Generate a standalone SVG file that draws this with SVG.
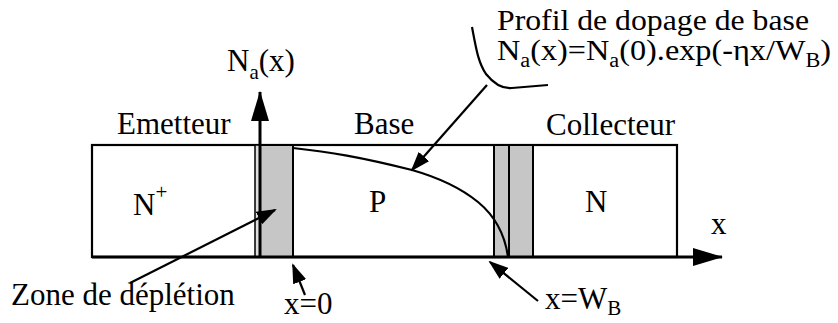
<svg xmlns="http://www.w3.org/2000/svg" width="838" height="323" viewBox="0 0 838 323">
<style>
text{font-family:"Liberation Serif","DejaVu Serif",serif;font-size:31px;fill:#000}
.sub{font-size:21px}
.lbl{font-size:29px}
.lbl .sub{font-size:20px}
.ln{stroke:#000;fill:none;stroke-width:2.2}
.thick{stroke:#000;fill:none;stroke-width:3}
.gray{fill:#c6c6c6;stroke:#000;stroke-width:2}
.lgray{fill:#dedede;stroke:#000;stroke-width:1.5}
</style>
<defs>
<marker id="ah" markerUnits="userSpaceOnUse" markerWidth="20" markerHeight="14" refX="18" refY="7" orient="auto">
<path d="M0,0 L20,7 L0,14 z" fill="#000"/>
</marker>
<marker id="ax" markerUnits="userSpaceOnUse" markerWidth="30" markerHeight="18" refX="29" refY="9" orient="auto">
<path d="M0,0 L30,9 L0,18 z" fill="#000"/>
</marker>
</defs>
<g id="structure">
<rect x="92" y="145" width="585" height="112" fill="#fff" stroke="#000" stroke-width="2.2"/>
</g>
<g id="depletion-emitter">
<rect class="lgray" x="255" y="145" width="5" height="112"/>
<rect class="gray" x="260" y="145" width="33" height="112"/>
</g>
<g id="depletion-collector">
<rect class="gray" x="494" y="145" width="15" height="112"/>
<rect class="gray" x="509" y="145" width="24" height="112"/>
</g>
<g id="profile-curve">
<path class="ln" d="M293,148 C330,152 360,157 412,170 C440,178 462,189 478,202 C495,216 505,235 508,257"/>
</g>
<g id="connectors">
<line class="thick" x1="260" y1="257" x2="260" y2="92" marker-end="url(#ax)"/>
<line class="thick" x1="92" y1="257" x2="722" y2="257" marker-end="url(#ax)"/>
<line class="ln" x1="130" y1="283" x2="275" y2="210" marker-end="url(#ah)"/>
<line class="ln" x1="487" y1="85" x2="412" y2="170" marker-end="url(#ah)"/>
<line class="ln" x1="305" y1="295" x2="293" y2="265" marker-end="url(#ah)"/>
<line class="ln" x1="538" y1="301" x2="490" y2="262" marker-end="url(#ah)"/>
<path class="ln" d="M472,27 C476,48 478,62 486,74 C494,84 502,89 512,88 L548,85"/>
</g>
<g id="labels">
<text x="117" y="134">Emetteur</text>
<text x="354" y="134">Base</text>
<text x="546" y="135">Collecteur</text>
<text x="133" y="215">N<tspan class="sub" dy="-16">+</tspan></text>
<text x="369" y="212">P</text>
<text x="585" y="212">N</text>
<text x="711" y="234">x</text>
<text x="227" y="71">N<tspan class="sub" dy="8">a</tspan><tspan dy="-8">(x)</tspan></text>
<text x="11" y="305">Zone de déplétion</text>
<text x="284" y="314">x=0</text>
<text x="545" y="309">x=W<tspan class="sub" dy="6">B</tspan></text>
<text class="lbl" x="497" y="30" textLength="312" lengthAdjust="spacingAndGlyphs">Profil de dopage de base</text>
<text class="lbl" x="497" y="60" textLength="334" lengthAdjust="spacingAndGlyphs">N<tspan class="sub" dy="7">a</tspan><tspan dy="-7">(x)=N</tspan><tspan class="sub" dy="7">a</tspan><tspan dy="-7">(0).exp(-ηx/W</tspan><tspan class="sub" dy="7">B</tspan><tspan dy="-7">)</tspan></text>
</g>
</svg>
